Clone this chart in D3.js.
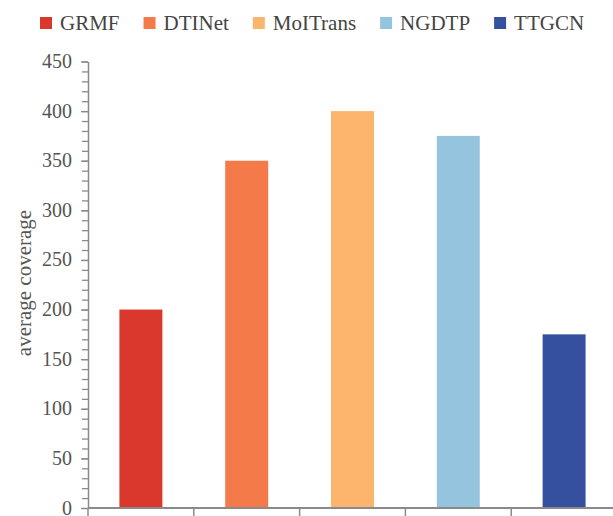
<!DOCTYPE html>
<html><head><meta charset="utf-8">
<script src="https://cdn.jsdelivr.net/npm/d3@7"></script>
<style>body{margin:0;background:#fff}svg{display:block}text{font-family:"Liberation Serif","Times New Roman",serif}</style>
</head><body>
<script>
const categories = ["GRMF","DTINet","MoITrans","NGDTP","TTGCN"];
const values = [200, 350, 400, 375, 175];
const colors = ["#da382c","#f57a4a","#fdb46c","#94c4de","#35509f"];
const yTicks = [0,50,100,150,200,250,300,350,400,450];
const yLabel = "average coverage";

const W = 613, H = 516;
const font = "Liberation Serif, Times New Roman, serif";
const svg = d3.select("body").append("svg").attr("width", W).attr("height", H);

const x0 = 88, x1 = 617, yBottom = 508, yTop = 61.5;
const x = d3.scaleBand().domain(categories).range([x0, x1]).paddingInner(0.594).paddingOuter(0.297);
const y = d3.scaleLinear().domain([0, 450]).range([yBottom, yTop]);

// bars
svg.append("g").selectAll("rect").data(categories).join("rect")
  .attr("x", d => x(d)).attr("width", x.bandwidth())
  .attr("y", (d,i) => y(values[i])).attr("height", (d,i) => y(0) - y(values[i]))
  .attr("fill", (d,i) => colors[i]);

const axisColor = "#8a8a8a", textColor = "#555";

// minor ticks
const minor = d3.range(0, 451, 10);
const gMinor = svg.append("g").attr("transform", `translate(${x0},0)`)
  .call(d3.axisLeft(y).tickValues(minor).tickSize(6).tickFormat(""));
gMinor.select(".domain").remove();
gMinor.selectAll("line").attr("stroke", axisColor).attr("stroke-width", 1.3);

// y axis
const gy = svg.append("g").attr("transform", `translate(${x0},0)`)
  .call(d3.axisLeft(y).tickValues(yTicks).tickSize(7).tickPadding(9).tickSizeOuter(0));
gy.attr("font-family", null).attr("font-size", null);
gy.select(".domain").attr("stroke", axisColor).attr("stroke-width", 1.5);
gy.selectAll("line").attr("stroke", axisColor).attr("stroke-width", 1.3);
gy.selectAll("text").style("font-family", font).style("font-size", "20px").attr("fill", textColor).attr("dy", "0.3em");

// x axis
svg.append("line").attr("x1", x0).attr("x2", W).attr("y1", yBottom).attr("y2", yBottom)
  .attr("stroke", axisColor).attr("stroke-width", 1.8);
const step = x.step();
const bounds = d3.range(categories.length).map(i => x(categories[i]) - x.paddingOuter()*step);
svg.append("g").selectAll("line").data(bounds).join("line")
  .attr("x1", d => d).attr("x2", d => d).attr("y1", yBottom).attr("y2", yBottom + 9)
  .attr("stroke", axisColor).attr("stroke-width", 1.5);

// y label
svg.append("text").attr("transform", `translate(31,283) rotate(-90)`)
  .attr("text-anchor", "middle").style("font-family", font).style("font-size", "21px")
  .attr("fill", textColor).text(yLabel);

// legend
const leg = svg.append("g");
let lx = 40;
categories.forEach((c, i) => {
  leg.append("rect").attr("x", lx).attr("y", 17).attr("width", 12).attr("height", 12).attr("fill", colors[i]);
  const t = leg.append("text").attr("x", lx + 20).attr("y", 30).style("font-family", font)
    .style("font-size", "21px").attr("fill", "#444").text(c);
  lx += 20 + t.node().getComputedTextLength() + 24;
});
</script>
</body></html>
